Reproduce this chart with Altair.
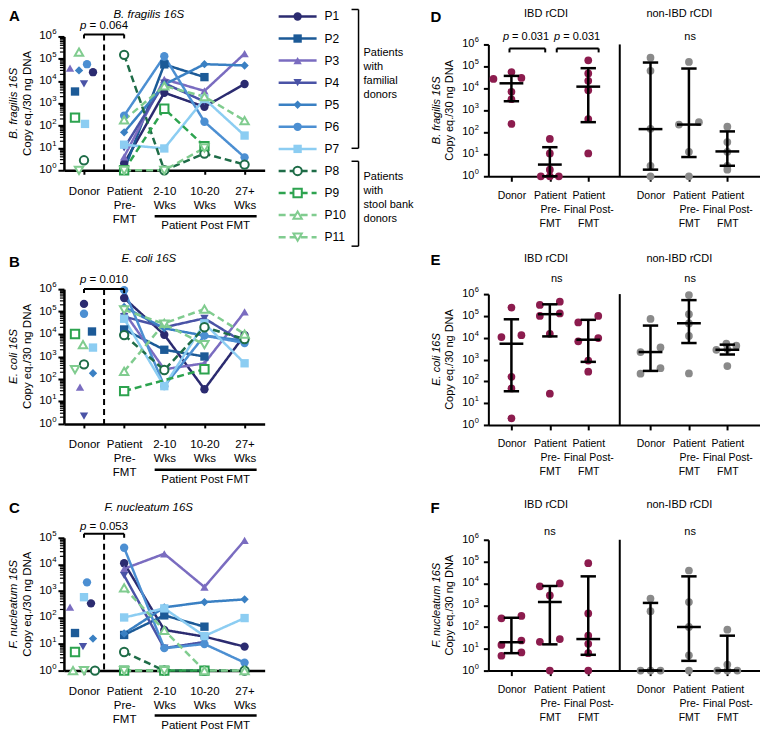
import json
import altair as alt
import pandas as pd

FONT = "Liberation Sans"
MAROON = "#8c1c4e"
GRAY = "#8a8a8a"

# ---------------- patients / styles ----------------
patients = ["P1", "P2", "P3", "P4", "P5", "P6", "P7", "P8", "P9", "P10", "P11"]
pt_colors = ["#2b2b70", "#1c5a97", "#7a6cc0", "#4a53a6", "#3a80c3", "#4c8fd2",
             "#8ccdf2", "#1e6c47", "#2da34f", "#80cc8f", "#80cc8f"]
pt_shapes = ["circle", "square", "triangle-up", "triangle-down", "diamond", "circle",
             "square", "circle", "square", "triangle-up", "triangle-down"]
pt_sizes = [70, 70, 70, 70, 85, 110, 90, 70, 70, 70, 70]
pt_dash = [[1, 0]] * 7 + [[7, 4]] * 4
pt_open = [False] * 7 + [True] * 4

time_labels = ["Donor", "Patient|Pre-|FMT", "2-10|Wks", "10-20|Wks", "27+|Wks"]

# ---------------- A: B. fragilis (P1..P11) ----------------
bf_donor = [2.5e4, 3.4e3, 3.8e4, 7.4e3, 3.0e4, 5.7e4, 120, 2.8, 230, 2.0e5, 1]
bf_donor_jit = [9, -9, -14, 0, -5, 3, 1, 0, -9, -5, -5]
bf_pre = [2, 1, 4, 10, 50, 280, 14, 1.5e5, 1, 180, 1]
bf_w2 = [3.0e3, 5.6e4, 1.2e4, 8.0e3, 7.0e3, 1.3e5, 9.5, 1, 570, 6.0e3, 1]
bf_w10 = [700, 1.5e4, 3.6e3, 1.2e3, 5.7e4, 150, 1.6e3, 5.6, 12, 2.0e3, 10]
bf_w27 = [7.4e3, None, 1.7e5, None, 5.0e4, 3.8, 36, 1.8, None, 170, None]

# ---------------- B: E. coli ----------------
ec_donor = [2.2e5, 1.3e4, 43, 2.2, 180, 8.0e4, 2.5e3, 450, 1.0e4, 3.4e3, 260]
ec_donor_jit = [0, 8, -4, 0, 9, 0, 9, 0, -9, -1, -9]
ec_pre = [4.0e5, 1.6e4, 9.5e4, 6.0e4, 1.6e5, 9.0e5, 4.8e4, 9.0e3, 29, 220, 1.2e5]
ec_w2 = [9.3e3, 2.0e3, 270, 2.0e4, 1.8e4, 48, 48, 250, None, 3.0e4, 2.8e4]
ec_w10 = [35, 1.0e3, 500, 5.0e4, 8.5e3, 8.5e3, 3.0e4, 2.0e4, 270, 1.3e5, 3.4e3]
ec_w27 = [9.0e3, None, 9.6e4, 4.0e3, 5.0e3, 4.0e3, 500, 6.0e3, None, 1.0e4, None]

# ---------------- C: F. nucleatum ----------------
fn_donor = [340, 26, 245, 8, 16, 2.1e3, 580, 1, 5, 1, 1]
fn_donor_jit = [7, -9, -14, -1, 9, 3, 0, 11, -9, -11, 0]
fn_pre = [1.1e4, 22, 6.8e3, 3.8e3, 25, 4.2e4, 100, 5, 1, 1.3e3, 1]
fn_w2 = [34, 120, 2.5e4, 7, 240, 7, 220, 1, 1, 33, 1]
fn_w10 = [19, 45, 1.4e3, 12, 380, 10, 20, 1, 1, 1, None]
fn_w27 = [8, None, 8.0e4, None, 480, 2, 95, 1, None, 1, None]

# ---------------- D/E/F: groups = IBD donor, pre, final, non-IBD donor, pre, final ----------------
cat_labels = ["Donor", "Patient|Pre-|FMT", "Patient|Final Post-|FMT"] * 2
cat_pos = [0.6, 1.6, 2.6, 4.22, 5.22, 6.22]

d_vals = [[5.5e4, 3.0e4, 2.7e4, 7.0e3, 3.2e3, 240],
          [50, 11, 2, 1, 1, 1],
          [1.9e5, 4.8e4, 2.2e4, 8.3e3, 400, 11],
          [2.5e5, 6.3e4, 145, 3, 1],
          [1.6e5, 225, 290, 13, 1],
          [180, 36, 13, 3, 2]]
d_jit = [[0, 10, -18, 0, 0, 0], [0, 0, 0, -9, 0, 9], [0, 0, 0, 0, 0, 0],
         [0, 0, 0, 0, 0], [0, -10, 10, 0, 0], [0, 0, 0, 0, 0]]
d_med = [1.7e4, 3.4, 1.2e4, 140, 225, 13.5]
d_lo = [2.6e3, 1, 290, 2, 7.5, 3]
d_hi = [3.7e4, 21, 8.3e4, 1.5e5, 8.0e4, 110]

e_vals = [[2.4e5, 1.07e4, 1.3e4, 160, 47, 2],
          [3.2e5, 4.5e5, 1.0e5, 1.3e5, 1.5e4, 27],
          [5.0e4, 1.0e5, 6.8e3, 9.6e3, 900, 275],
          [7.3e4, 3.6e3, 2.2e3, 225, 400],
          [9.0e5, 1.2e5, 4.5e4, 1.2e4, 230],
          [2.8e3, 5.3e3, 4.3e3, 3.0e3, 500]]
e_jit = [[0, -10, 10, 0, 0, 0], [-10, 10, -10, 10, 0, 0], [-10, 10, -10, 10, 0, 0],
         [0, 10, -10, -10, 10], [0, 0, 0, 0, 0], [-11, -1, 9, 0, 0]]
e_med = [5.3e3, 1.2e5, 8.1e3, 2.2e3, 4.6e4, 2.8e3]
e_lo = [35, 1.15e4, 780, 300, 5.7e3, 1.7e3]
e_hi = [7.0e4, 3.4e5, 6.6e4, 3.6e4, 5.3e5, 4.8e3]

f_vals = [[250, 320, 15, 24, 4.8, 6.8],
          [7.3e3, 1.0e4, 2.8e3, 21, 28, 1],
          [8.4e4, 420, 40, 17, 6.3, 1],
          [2.0e3, 530, 1, 1, 1],
          [3.9e4, 1.4e3, 100, 5, 1],
          [75, 1.9, 1, 1, 1]]
f_jit = [[-10, 10, -10, 10, -10, 10], [-10, 10, 0, -10, 10, 0], [0, 0, 0, 0, 0, 0],
         [0, 0, -10, 0, 10], [0, 0, 0, 0, 0], [0, 0, -10, 0, 10]]
f_med = [20, 1.4e3, 28, 1, 100, 1]
f_lo = [6.3, 16, 5.3, 1, 2.8, 1]
f_hi = [265, 7.6e3, 2.1e4, 1.27e3, 2.1e4, 40]

# ---------------- layout constants ----------------
W_L = 201
PXU_L = W_L / 5.0
W_R = 272
X_END = 7.07
PXU_R = W_R / X_END
DIVIDER = 3.42
ONE = pd.DataFrame({"k": [0]})


def text_layer(text, x, y, size=11, italic=False, bold=False, align="center",
               baseline="middle", angle=0, dx=0, line_break=None):
    kw = dict(text=text, fontSize=size, font=FONT, align=align, baseline=baseline,
              color="black", angle=angle, dx=dx)
    if italic:
        kw["fontStyle"] = "italic"
    if bold:
        kw["fontWeight"] = "bold"
    if line_break:
        kw["lineBreak"] = line_break
        kw["lineHeight"] = 14
    return alt.Chart(ONE).mark_text(**kw).encode(x=x, y=y)


def ytick_labels(nexp, xr, fs, field):
    """'10' plus a raised exponent at every power of ten on the log axis."""
    df = pd.DataFrame({field: [10 ** k for k in range(nexp + 1)],
                       "e": [str(k) for k in range(nexp + 1)]})
    base = alt.Chart(df).mark_text(text="10", fontSize=fs, font=FONT, align="right",
                                   baseline="middle", color="black").encode(
        x=alt.value(xr), y=f"{field}:Q")
    exp = alt.Chart(df).mark_text(fontSize=fs * 0.68, font=FONT, align="left",
                                  baseline="middle", color="black", dy=-4).encode(
        x=alt.value(xr + 0.3), y=f"{field}:Q", text="e:N")
    return [base, exp]


def rule_layer(x, y, x2=None, y2=None, width=2.0, dash=None):
    enc = dict(x=x, y=y)
    if x2 is not None:
        enc["x2"] = x2
    if y2 is not None:
        enc["y2"] = y2
    kw = dict(color="black", strokeWidth=width)
    if dash:
        kw["strokeDash"] = dash
    return alt.Chart(ONE).mark_rule(**kw).encode(**enc)


def pval_layers(label, xc, y, fs):
    wp = 0.556 * fs
    sp = 0.278 * fs
    total = 4.198 * fs
    start = -total / 2
    return [
        text_layer("p", alt.datum(xc), alt.value(y), size=fs, italic=True, align="left", dx=start),
        text_layer("= " + label, alt.datum(xc), alt.value(y), size=fs, align="left",
                   dx=start + wp + sp),
    ]


def enc_common():
    return dict(
        color=alt.Color("patient:N", scale=alt.Scale(domain=patients, range=pt_colors), legend=None),
        shape=alt.Shape("patient:N", scale=alt.Scale(domain=patients, range=pt_shapes), legend=None),
        size=alt.Size("patient:N", scale=alt.Scale(domain=patients, range=pt_sizes), legend=None),
    )


def line_panel(donor, jit, pre, w2, w10, w27, nexp, H, letter, letter_y, species,
               title_y, pval, p_y, br_y, post_y):
    rows = []
    for i, p in enumerate(patients):
        for t, arr in enumerate([pre, w2, w10, w27], start=1):
            if arr[i] is not None:
                rows.append(dict(patient=p, t=t, v=arr[i], open=pt_open[i]))
    df = pd.DataFrame(rows)
    ddf = pd.DataFrame(dict(patient=patients, t=[j / PXU_L for j in jit], v=donor, open=pt_open))

    xsc = alt.Scale(domain=[-0.5, 4.5], nice=False, zero=False)
    ysc = alt.Scale(type="log", domain=[1, 10 ** nexp], nice=False)
    xaxis = alt.Axis(values=[0, 1, 2, 3, 4], title=None, grid=False,
                     labelExpr="split(" + json.dumps(time_labels) + "[datum.value], '|')",
                     domainColor="black", domainWidth=2.5, tickColor="black", tickWidth=2,
                     tickSize=4, labelFontSize=11.5, labelColor="black", labelFont=FONT,
                     labelPadding=11, labelLineHeight=14, labelAngle=0, labelOverlap=False,
                     labelFlush=False)
    yaxis = alt.Axis(values=[10 ** k for k in range(nexp + 1)], title=None, grid=False,
                     labels=False, domainColor="black", domainWidth=2.5,
                     tickColor="black", tickWidth=2, tickSize=6)
    X = alt.X("t:Q", scale=xsc, axis=xaxis)
    Y = alt.Y("v:Q", scale=ysc, axis=yaxis)

    lines = alt.Chart(df).mark_line(strokeWidth=2.5).encode(
        x=X, y=Y,
        color=enc_common()["color"],
        strokeDash=alt.StrokeDash("patient:N", scale=alt.Scale(domain=patients, range=pt_dash), legend=None),
        detail="patient:N", order="t:Q")
    minor = [m * 10 ** k for k in range(nexp) for m in range(2, 10)]
    minor_layer = alt.Chart(pd.DataFrame({"v": minor})).mark_rule(
        color="black", strokeWidth=1.2).encode(x=alt.value(-4), x2=alt.value(0), y="v:Q")
    filled_pts = alt.Chart(df[~df["open"]]).mark_point(filled=True, opacity=1).encode(
        x="t:Q", y="v:Q", **enc_common())
    open_pts = alt.Chart(df[df["open"]]).mark_point(filled=False, fill="white", opacity=1,
                                                     strokeWidth=2).encode(x="t:Q", y="v:Q", **enc_common())
    dfill = alt.Chart(ddf[~ddf["open"]]).mark_point(filled=True, opacity=1).encode(
        x="t:Q", y="v:Q", **enc_common())
    dopen = alt.Chart(ddf[ddf["open"]]).mark_point(filled=False, fill="white", opacity=1,
                                                    strokeWidth=2).encode(x="t:Q", y="v:Q", **enc_common())

    layers = [lines, minor_layer, filled_pts, open_pts, dfill, dopen]
    layers += ytick_labels(nexp, -12, 11.5, "v")
    # dashed separator and p-value bracket
    layers.append(rule_layer(alt.datum(0.5), alt.value(br_y), y2=alt.value(H), width=2, dash=[6, 4]))
    layers.append(rule_layer(alt.datum(0), alt.value(br_y), x2=alt.datum(1), width=2))
    layers.append(rule_layer(alt.datum(0), alt.value(br_y), y2=alt.value(br_y + 4), width=2))
    layers.append(rule_layer(alt.datum(1), alt.value(br_y), y2=alt.value(br_y + 4), width=2))
    layers += pval_layers(pval, 0.5, p_y, 11.5)
    # post-FMT bracket
    layers.append(rule_layer(alt.datum(1.76), alt.value(H + post_y - 10), x2=alt.datum(4.3), width=2.5))
    layers.append(text_layer("Patient Post FMT", alt.datum(3.03), alt.value(H + post_y), size=11.5))
    # titles
    layers.append(text_layer(species, alt.value(85), alt.value(title_y), size=11.5, italic=True))
    layers.append(text_layer(letter, alt.value(-55), alt.value(letter_y), size=15, bold=True,
                             align="left", baseline="top"))
    layers.append(text_layer(species, alt.value(-50), alt.value(H / 2), size=11.5, italic=True, angle=270))
    layers.append(text_layer("Copy eq./30 ng DNA", alt.value(-36), alt.value(H / 2), size=11.5, angle=270))
    return alt.layer(*layers).properties(width=W_L, height=H)


def stat_panel(vals, jits, med, lo, hi, species, H, top, letter, letter_y, head_y, annots):
    prow = []
    for g in range(6):
        for v, j in zip(vals[g], jits[g]):
            prow.append(dict(x=cat_pos[g] + j / PXU_R, v=v, grp="IBD" if g < 3 else "non"))
    pdf = pd.DataFrame(prow)
    sdf = pd.DataFrame(dict(x=cat_pos, med=med, lo=lo, hi=hi))

    xsc = alt.Scale(domain=[0, X_END], nice=False, zero=False)
    ysc = alt.Scale(type="log", domain=[1, 1e6], range=[H, top], nice=False)
    xaxis = alt.Axis(values=cat_pos, title=None, grid=False,
                     labelExpr="split(" + json.dumps(cat_labels) + "[indexof(" +
                               json.dumps(cat_pos) + ", datum.value)], '|')",
                     domainColor="black", domainWidth=2, tickColor="black", tickWidth=2,
                     tickSize=5, labelFontSize=10.5, labelColor="black", labelFont=FONT,
                     labelPadding=9, labelLineHeight=14, labelAngle=0, labelOverlap=False,
                     labelFlush=False)
    yaxis = alt.Axis(values=[10 ** k for k in range(7)], title=None, grid=False,
                     labels=False, domainColor="black", domainWidth=2,
                     tickColor="black", tickWidth=2, tickSize=5)
    ibd = alt.Chart(pdf[pdf["grp"] == "IBD"]).mark_circle(size=60, opacity=1, color=MAROON).encode(
        x=alt.X("x:Q", scale=xsc, axis=xaxis),
        y=alt.Y("v:Q", scale=ysc, axis=yaxis))
    non = alt.Chart(pdf[pdf["grp"] == "non"]).mark_circle(size=60, opacity=1, color=GRAY).encode(
        x="x:Q", y="v:Q")
    base = alt.Chart(sdf).transform_calculate(
        m0="datum.x - 0.31", m1="datum.x + 0.31", c0="datum.x - 0.2", c1="datum.x + 0.2")
    medr = base.mark_rule(color="black", strokeWidth=2.5).encode(x="m0:Q", x2="m1:Q", y="med:Q")
    lor = base.mark_rule(color="black", strokeWidth=2.5).encode(x="c0:Q", x2="c1:Q", y="lo:Q")
    hir = base.mark_rule(color="black", strokeWidth=2.5).encode(x="c0:Q", x2="c1:Q", y="hi:Q")
    vert = base.mark_rule(color="black", strokeWidth=2.5).encode(x="x:Q", y="lo:Q", y2="hi:Q")

    layers = [ibd, non, vert, medr, lor, hir]
    layers += ytick_labels(6, -14, 11, "v")
    layers.append(rule_layer(alt.datum(DIVIDER), alt.datum(1), y2=alt.datum(1e6), width=2))
    layers.append(text_layer("IBD rCDI", alt.datum(1.5), alt.value(head_y)))
    layers.append(text_layer("non-IBD rCDI", alt.datum(4.97), alt.value(head_y)))
    layers.append(text_layer(letter, alt.value(-58), alt.value(letter_y), size=15, bold=True,
                             align="left", baseline="top"))
    mid = (H + top) / 2
    layers.append(text_layer(species, alt.value(-51), alt.value(mid), italic=True, angle=270))
    layers.append(text_layer("Copy eq./30 ng DNA", alt.value(-38), alt.value(mid), angle=270))
    for a in annots:
        if a[0] == "ns":
            layers.append(text_layer("ns", alt.datum(a[1]), alt.value(a[2])))
        else:
            _, label, xc, y, x0, x1, by = a
            layers += pval_layers(label, xc, y, 11)
            layers.append(rule_layer(alt.datum(x0), alt.value(by), x2=alt.datum(x1), width=2))
            layers.append(rule_layer(alt.datum(x0), alt.value(by), y2=alt.value(by + 4), width=2))
            layers.append(rule_layer(alt.datum(x1), alt.value(by), y2=alt.value(by + 4), width=2))
    return alt.layer(*layers).properties(width=W_R, height=H)


def legend_panel():
    ldf = pd.DataFrame(dict(patient=patients, i=list(range(11)), open=pt_open))
    Y = alt.Y("i:Q", scale=alt.Scale(domain=[0, 10], range=[-20, 201], nice=False, zero=False), axis=None)
    lines = alt.Chart(ldf).mark_rule(strokeWidth=2.5).encode(
        x=alt.value(0), x2=alt.value(38), y=Y, color=enc_common()["color"],
        strokeDash=alt.StrokeDash("patient:N", scale=alt.Scale(domain=patients, range=pt_dash), legend=None))
    fp = alt.Chart(ldf[~ldf["open"]]).mark_point(filled=True, opacity=1).encode(
        x=alt.value(19), y=Y, **enc_common())
    op = alt.Chart(ldf[ldf["open"]]).mark_point(filled=False, fill="white", opacity=1,
                                                 strokeWidth=2).encode(x=alt.value(19), y=Y, **enc_common())
    labels = alt.Chart(ldf).mark_text(align="left", baseline="middle", fontSize=12, font=FONT,
                                      color="black").encode(x=alt.value(46), y=Y, text="patient:N")
    layers = [lines, fp, op, labels]
    for (t, b) in [(-27, 112), (125, 210)]:
        layers.append(rule_layer(alt.value(80), alt.value(t), y2=alt.value(b), width=1.5))
        layers.append(rule_layer(alt.value(73), alt.value(t), x2=alt.value(80), width=1.5))
        layers.append(rule_layer(alt.value(73), alt.value(b), x2=alt.value(80), width=1.5))
    layers.append(text_layer("Patients\nwith\nfamilial\ndonors", alt.value(85), alt.value(11),
                             size=11, align="left", baseline="top", line_break="\n"))
    layers.append(text_layer("Patients\nwith\nstool bank\ndonors", alt.value(85), alt.value(135),
                             size=11, align="left", baseline="top", line_break="\n"))
    return alt.layer(*layers).properties(width=196, height=100)


def spacer():
    return alt.Chart(ONE).mark_point(opacity=0).encode(
        x=alt.value(0), y=alt.value(0)).properties(width=1, height=1)


A = line_panel(bf_donor, bf_donor_jit, bf_pre, bf_w2, bf_w10, bf_w27, 6, 134, "A", -27,
               "B. fragilis 16S", -21, "0.064", -10, -2, 56)
B = line_panel(ec_donor, ec_donor_jit, ec_pre, ec_w2, ec_w10, ec_w27, 6, 135, "B", -34,
               "E. coli 16S", -30, "0.010", -9, 0, 56)
C = line_panel(fn_donor, fn_donor_jit, fn_pre, fn_w2, fn_w10, fn_w27, 5, 133, "C", -37,
               "F. nucleatum 16S", -30, "0.053", -11, -4, 55)

D = stat_panel(d_vals, d_jit, d_med, d_lo, d_hi, "B. fragilis 16S", 140, 8, "D", -26, -22,
               [("p", "0.031", 0.98, 1, 0.55, 1.48, 12), ("p", "0.031", 2.31, 1, 1.78, 2.87, 12),
                ("ns", 5.25, 1)])
E = stat_panel(e_vals, e_jit, e_med, e_lo, e_hi, "E. coli 16S", 136, 5, "E", -36, -30,
               [("ns", 1.78, -10), ("ns", 5.25, -10)])
F = stat_panel(f_vals, f_jit, f_med, f_lo, f_hi, "F. nucleatum 16S", 133, 2, "F", -37, -33,
               [("ns", 1.6, -6), ("ns", 5.25, -6)])

chart = (alt.concat(A, legend_panel(), D, B, spacer(), E, C, spacer(), F,
                    columns=3, spacing={"row": 113, "column": 14}, bounds="flush",
                    align="each")
         .properties(padding=0)
         .configure(font=FONT)
         .configure_view(stroke=None))

chart.save("out.html", embed_options={"renderer": "svg", "actions": False})
